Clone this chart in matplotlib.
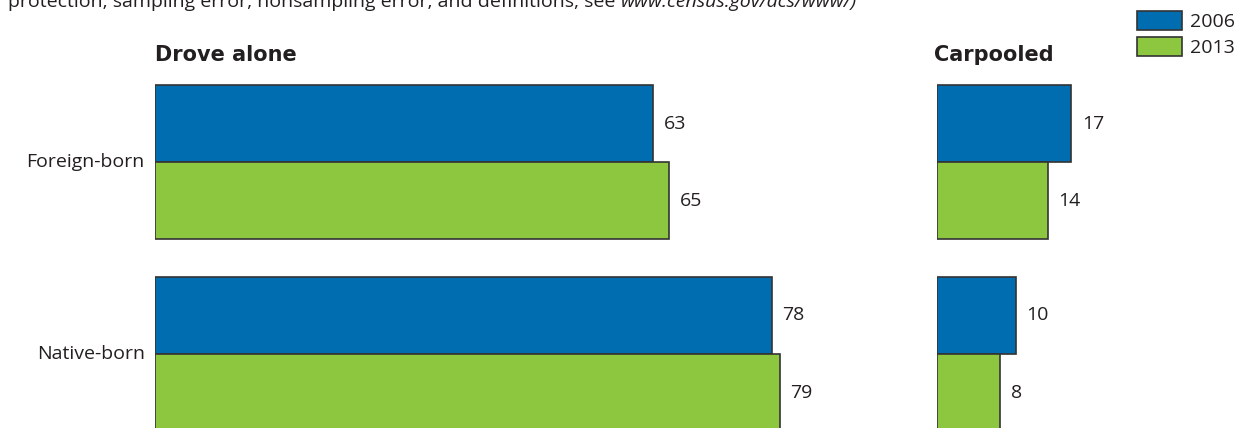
#import neccessary libraries
import matplotlib.pyplot as plt
from matplotlib.patches import Patch

#data
groups=['Foreign-born','Native-born']
years=['2006','2013']
drove_alone={'2006':[63,78],'2013':[65,79]}
carpooled={'2006':[17,10],'2013':[14,8]}

#style
colors={'2006':'#006DB0','2013':'#8DC63F'}
edge='#333333'
txt='#231F20'
fs=14
plt.rcParams['font.family']=['Open Sans','DejaVu Sans']

W,H=1247,428
fig=plt.figure(figsize=(W/100,H/100),dpi=100)
px_per_unit=7.91
grp_gap=192.0
y0=162.0
bar_h=77/grp_gap

def make_axes(left,width):
    ax=fig.add_axes([left/W,0,width/W,1])
    ax.set_xlim(0,width/px_per_unit)
    ax.set_ylim((H-y0)/grp_gap,-y0/grp_gap)
    ax.axis('off')
    return ax

def draw_panel(ax,data):
    for j,yr in enumerate(years):
        off=(-0.5+j)*bar_h
        pos=[i+off for i in range(len(groups))]
        ax.barh(pos,data[yr],height=bar_h,color=colors[yr],edgecolor=edge,linewidth=1.2)
        for p,v in zip(pos,data[yr]):
            ax.text(v+1.3,p,str(v),va='center',ha='left',fontsize=fs,color=txt)

ax1=make_axes(155,760)
draw_panel(ax1,drove_alone)
ax2=make_axes(937,200)
draw_panel(ax2,carpooled)

#group labels
for i,g in enumerate(groups):
    ax1.text(-1.3,i,g,ha='right',va='center',fontsize=fs,color=txt)

#panel titles
for x,t in [(155,'Drove alone'),(934,'Carpooled')]:
    fig.text(x/W,1-55/H,t,fontsize=15,fontweight='bold',family='DejaVu Sans',
             color=txt,va='center',ha='left')

#cut-off source note at the top (cropped in the original too)
t1=fig.text(8/W,1-7/H,'protection, sampling error, nonsampling error, and definitions, see ',
            fontsize=fs,color=txt,va='baseline',ha='left')
fig.canvas.draw()
bb=t1.get_window_extent()
fig.text(bb.x1/W,1-7/H,'www.census.gov/acs/www/)',fontsize=fs,style='italic',color=txt,va='baseline',ha='left')

#legend
handles=[Patch(facecolor=colors[y],edgecolor=edge,linewidth=1.2,label=y) for y in years]
fig.legend(handles=handles,loc='upper left',bbox_to_anchor=(1131/W,1-5/H),frameon=False,
           fontsize=fs,handlelength=2.3,handleheight=1.15,handletextpad=0.45,labelspacing=0.3,
           borderaxespad=0,borderpad=0.3,labelcolor=txt)

plt.savefig('out.png',dpi=100)
